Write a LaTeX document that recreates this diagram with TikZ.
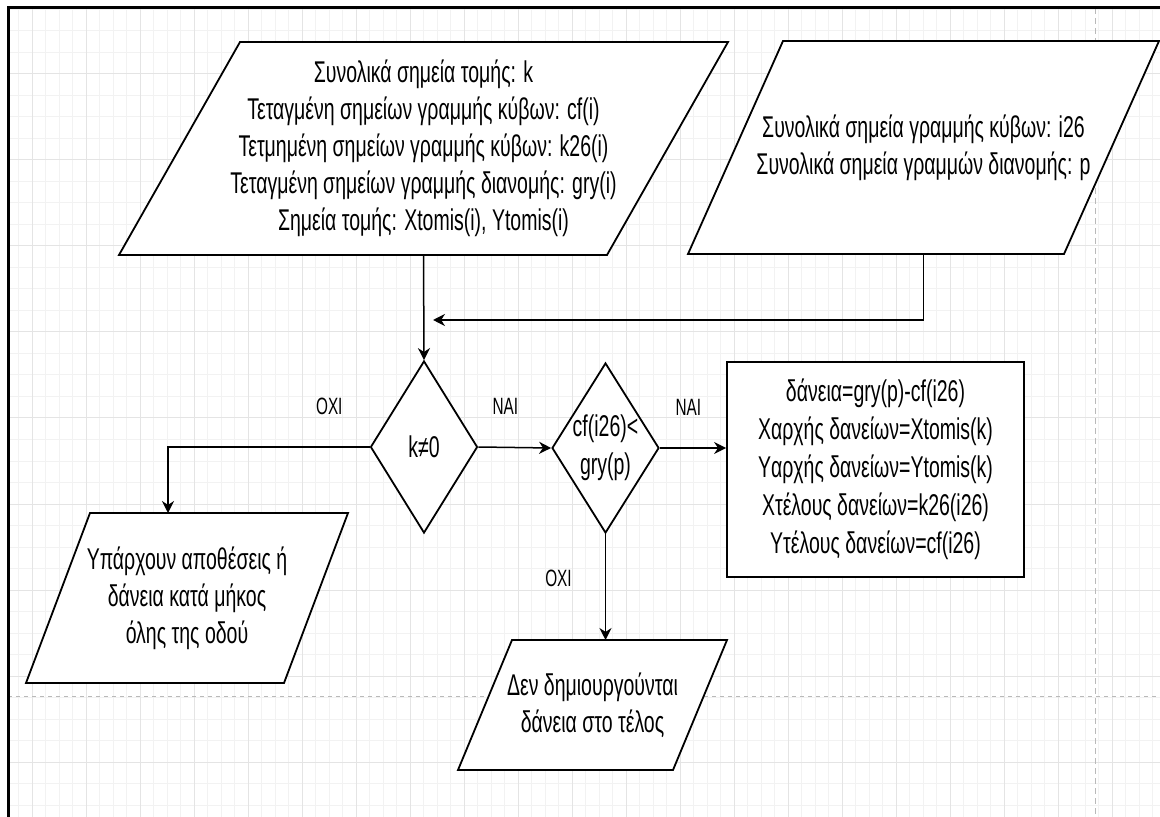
\documentclass[tikz,border=0pt]{standalone}
\usepackage{fontspec}
\setmainfont{Liberation Sans}[FakeStretch=0.65]
\usetikzlibrary{arrows.meta,positioning,shapes.geometric,calc}
\definecolor{plegmalepto}{RGB}{242,242,242}
\definecolor{plegmadyn}{RGB}{228,228,228}
\definecolor{selida}{RGB}{185,185,185}
\pgfdeclarelayer{plegma}
\pgfdeclarelayer{sxima}
\pgfsetlayers{plegma,sxima,main}
\tikzset{
  dedomena/.style={rectangle,inner sep=0pt,outer sep=0pt,align=center,
    font=\fontsize{15}{18.5}\selectfont},
  plaisio/.style={draw=black,fill=white,line width=0.9pt,line join=miter},
  elegxos/.style={diamond,draw=black,fill=white,line width=0.9pt,inner sep=-6pt,
    minimum width=53.5pt,align=center,font=\fontsize{15}{19}\selectfont},
  praxi/.style={rectangle,draw=black,fill=white,line width=0.9pt,
    minimum width=148.5pt,minimum height=107.5pt,align=center,font=\fontsize{15}{19}\selectfont},
  etiketa/.style={inner sep=1pt,font=\fontsize{11.8}{14}\selectfont},
  velos/.style={-{Stealth[length=6pt,width=6pt]},line width=0.75pt,black}
}
% plagio perigramma gyro apo komvo: #1 onoma, #2 klisi
\newcommand{\plagio}[2]{%
  \begin{pgfonlayer}{sxima}
    \draw[plaisio] ($(#1.south west)+(-#2/2,0)$) -- ($(#1.north west)+(#2/2,0)$)
      -- ($(#1.north east)+(#2/2,0)$) -- ($(#1.south east)+(-#2/2,0)$) -- cycle;
  \end{pgfonlayer}}

\begin{document}
\begin{tikzpicture}[x=0.5pt,y=-0.5pt]
\useasboundingbox (0,0) rectangle (1160,817);
% plegma
\begin{pgfonlayer}{plegma}
\foreach \i in {0,...,84}
  \draw[plegmalepto,line width=0.5pt] ({18.5+13.5*\i},8) -- ({18.5+13.5*\i},817);
\foreach \j in {0,...,37}
  \draw[plegmalepto,line width=0.5pt] (8,{9.5+21.5*\j}) -- (1160,{9.5+21.5*\j});
\foreach \i in {0,...,20}
  \draw[plegmadyn,line width=0.5pt] ({32+54*\i},8) -- ({32+54*\i},817);
\foreach \j in {0,...,8}
  \draw[plegmadyn,line width=0.5pt] (8,{74+86*\j}) -- (1160,{74+86*\j});
\draw[selida,line width=0.5pt,dash pattern=on 3pt off 2pt] (1095,8) -- (1095,817);
\draw[selida,line width=0.5pt,dash pattern=on 2pt off 2pt] (8,696) -- (1160,696);
\end{pgfonlayer}
\draw[line width=1.5pt] (8,817) -- (8,8) -- (1160,8);

% komvoi
\node[dedomena,minimum width=244pt,minimum height=106.5pt] (in1) at (423.5,148.5)
  {Συνολικά σημεία τομής: k\\
   Τεταγμένη σημείων γραμμής κύβων: cf(i)\\
   Τετμημένη σημείων γραμμής κύβων: k26(i)\\
   Τεταγμένη σημείων γραμμής διανομής: gry(i)\\
   Σημεία τομής: Xtomis(i), Ytomis(i)};
\plagio{in1}{121}
\node[dedomena,minimum width=188pt,minimum height=106.5pt] (in2) at (923.5,147.5)
  {Συνολικά σημεία γραμμής κύβων: i26\\
   Συνολικά σημεία γραμμών διανομής: p};
\plagio{in2}{95}
\node[elegxos,minimum height=86pt] (d1) at (424,447) {k≠0};
\node[elegxos,minimum height=85pt] (d2) at (605.5,448) {cf(i26)<\\gry(p)};
\node[praxi] (apot) at (875.5,469.5)
  {δάνεια=gry(p)-cf(i26)\\
   Xαρχής δανείων=Xtomis(k)\\
   Yαρχής δανείων=Ytomis(k)\\
   Xτέλους δανείων=k26(i26)\\
   Yτέλους δανείων=cf(i26)};
\node[dedomena,minimum width=129pt,minimum height=85pt] (out1) at (187,598)
  {Υπάρχουν αποθέσεις ή\\
   δάνεια κατά μήκος\\
   όλης της οδού};
\plagio{out1}{64}
\node[dedomena,minimum width=107.5pt,minimum height=65pt] (out2) at (592.5,705)
  {Δεν δημιουργούνται\\
   δάνεια στο τέλος};
\plagio{out2}{54}
\coordinate (enosi) at (433,320);

% syndeseis
\draw[velos] (in1.south) -- (d1.north);
\draw[velos] (in2.south) |- (enosi);
\draw[velos] (d1.east) -- (d2.west)
  node[etiketa,pos=0.37,yshift=20.5pt] (nai1) {ΝΑΙ};
\draw[velos] (d2.east) -- (d2.east -| apot.west)
  node[etiketa,pos=0.43,yshift=20.5pt] (nai2) {ΝΑΙ};
\draw[velos] (d1.west) -| ($(out1.north)+(-19,0)$)
  node[etiketa,pos=0.1,yshift=20.5pt] (oxi1) {ΟΧΙ};
\draw[velos] (d2.south) -- (d2.south |- out2.north)
  node[etiketa,pos=0.42,xshift=-23.5pt] (oxi2) {ΟΧΙ};
\end{tikzpicture}
\end{document}
